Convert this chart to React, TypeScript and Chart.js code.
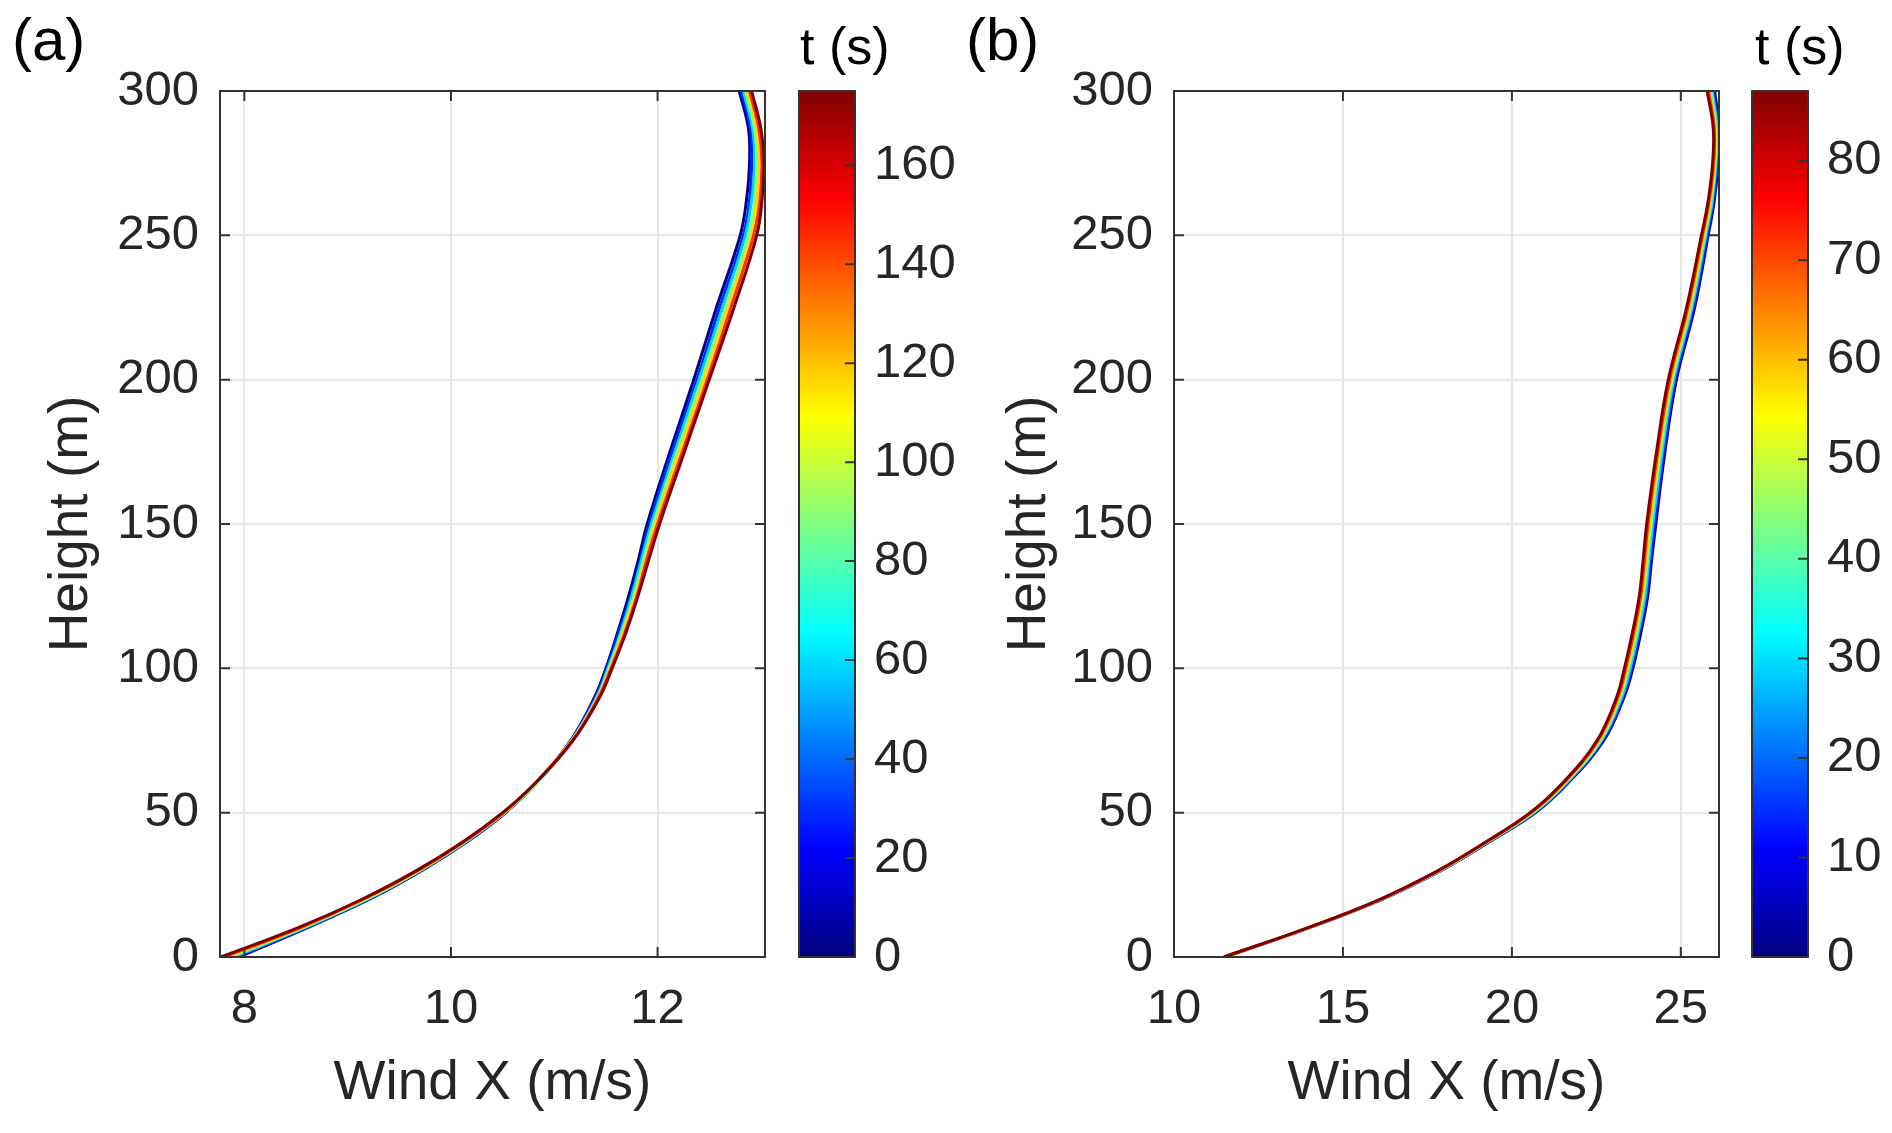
import { useEffect, useRef } from "react";
import { Chart, registerables } from "chart.js";

Chart.register(...registerables);

const FONT = "'Liberation Sans', Arial, Helvetica, sans-serif";
const TXT = "#262626";
const AXIS = "#333333";
const GRID = "#e6e6e6";

const heights = [0, 10, 20, 30, 40, 50, 60, 75, 90, 100, 112, 125, 137, 150, 175, 200, 225, 250, 262, 275, 287, 300];
const heightTicks = [0, 50, 100, 150, 200, 250, 300];

// (a) wind x (m/s), one profile per time step
const timesA = [0, 29, 58, 87, 116, 145, 175];
const windA_t0 = [7.95, 8.6, 9.21, 9.72, 10.16, 10.53, 10.82, 11.16, 11.39, 11.5, 11.61, 11.72, 11.81, 11.9, 12.12, 12.35, 12.57, 12.8, 12.86, 12.89, 12.88, 12.79];
const windA_t29 = [7.92, 8.59, 9.2, 9.71, 10.15, 10.52, 10.82, 11.16, 11.4, 11.51, 11.62, 11.74, 11.83, 11.92, 12.14, 12.38, 12.6, 12.83, 12.89, 12.91, 12.9, 12.81];
const windA_t58 = [7.89, 8.57, 9.19, 9.7, 10.15, 10.52, 10.82, 11.17, 11.41, 11.52, 11.64, 11.75, 11.84, 11.94, 12.17, 12.4, 12.63, 12.85, 12.91, 12.94, 12.92, 12.83];
const windA_t87 = [7.86, 8.56, 9.18, 9.7, 10.14, 10.52, 10.82, 11.17, 11.42, 11.53, 11.65, 11.77, 11.86, 11.96, 12.19, 12.43, 12.66, 12.88, 12.94, 12.96, 12.94, 12.85];
const windA_t116 = [7.83, 8.54, 9.16, 9.69, 10.13, 10.51, 10.81, 11.17, 11.42, 11.54, 11.66, 11.78, 11.88, 11.98, 12.21, 12.45, 12.68, 12.91, 12.96, 12.98, 12.96, 12.87];
const windA_t145 = [7.8, 8.53, 9.15, 9.68, 10.13, 10.51, 10.81, 11.18, 11.43, 11.55, 11.68, 11.8, 11.89, 12.0, 12.24, 12.48, 12.71, 12.93, 12.99, 13.01, 12.98, 12.89];
const windA_t175 = [7.77, 8.51, 9.14, 9.67, 10.12, 10.5, 10.81, 11.18, 11.44, 11.56, 11.69, 11.81, 11.91, 12.02, 12.26, 12.5, 12.74, 12.96, 13.01, 13.03, 13.0, 12.91];
const windA = [windA_t0, windA_t29, windA_t58, windA_t87, windA_t116, windA_t145, windA_t175];
const windTicksA = [8, 10, 12];
const colorTicksA = [0, 20, 40, 60, 80, 100, 120, 140, 160];

// (b)
const timesB = [0, 14, 29, 43, 58, 72, 87];
const windB_t0 = [11.5, 13.96, 16.16, 17.91, 19.35, 20.7, 21.64, 22.72, 23.32, 23.58, 23.81, 24.02, 24.13, 24.26, 24.53, 24.87, 25.41, 25.81, 25.99, 26.1, 26.13, 26.0];
const windB_t14 = [11.5, 13.96, 16.15, 17.9, 19.33, 20.67, 21.61, 22.69, 23.29, 23.54, 23.77, 23.98, 24.09, 24.22, 24.49, 24.83, 25.37, 25.78, 25.96, 26.07, 26.1, 25.96];
const windB_t29 = [11.49, 13.95, 16.14, 17.88, 19.31, 20.65, 21.59, 22.65, 23.25, 23.5, 23.73, 23.94, 24.05, 24.17, 24.45, 24.79, 25.33, 25.74, 25.93, 26.04, 26.07, 25.93];
const windB_t43 = [11.49, 13.95, 16.13, 17.87, 19.3, 20.62, 21.56, 22.62, 23.21, 23.45, 23.69, 23.89, 24.01, 24.12, 24.4, 24.75, 25.29, 25.71, 25.9, 26.02, 26.04, 25.89];
const windB_t58 = [11.49, 13.94, 16.12, 17.86, 19.28, 20.59, 21.53, 22.58, 23.17, 23.41, 23.64, 23.85, 23.96, 24.08, 24.36, 24.71, 25.25, 25.68, 25.87, 25.99, 26.01, 25.85];
const windB_t72 = [11.48, 13.94, 16.11, 17.84, 19.27, 20.57, 21.51, 22.55, 23.14, 23.37, 23.6, 23.81, 23.92, 24.03, 24.32, 24.67, 25.21, 25.64, 25.84, 25.97, 25.99, 25.82];
const windB_t87 = [11.48, 13.93, 16.1, 17.83, 19.25, 20.54, 21.48, 22.52, 23.1, 23.33, 23.56, 23.77, 23.88, 23.99, 24.28, 24.63, 25.17, 25.61, 25.81, 25.94, 25.96, 25.78];
const windB = [windB_t0, windB_t14, windB_t29, windB_t43, windB_t58, windB_t72, windB_t87];
const windTicksB = [10, 15, 20, 25];
const colorTicksB = [0, 10, 20, 30, 40, 50, 60, 70, 80];

function jet(v: number) {
  const c = (x: number) => Math.round(255 * Math.max(0, Math.min(1, x)));
  return `rgb(${c(1.5 - Math.abs(4 * v - 3))},${c(1.5 - Math.abs(4 * v - 2))},${c(1.5 - Math.abs(4 * v - 1))})`;
}

const tickFont = { family: FONT, size: 49, lineHeight: 1 };
const labelFont = { family: FONT, size: 55, lineHeight: 1 };

// matlab style box with inward ticks on all four sides
const framePlugin = {
  id: "frame",
  afterDatasetsDraw(chart: any) {
    const { ctx, chartArea: a, scales } = chart;
    const tl = 10;
    ctx.save();
    ctx.strokeStyle = AXIS;
    ctx.lineWidth = 2;
    ctx.beginPath();
    scales.x.ticks.forEach((t: any) => {
      const p = scales.x.getPixelForValue(t.value);
      ctx.moveTo(p, a.bottom); ctx.lineTo(p, a.bottom - tl);
      ctx.moveTo(p, a.top); ctx.lineTo(p, a.top + tl);
    });
    scales.y.ticks.forEach((t: any) => {
      const p = scales.y.getPixelForValue(t.value);
      ctx.moveTo(a.left, p); ctx.lineTo(a.left + tl, p);
      ctx.moveTo(a.right, p); ctx.lineTo(a.right - tl, p);
    });
    ctx.stroke();
    ctx.strokeRect(a.left, a.top, a.right - a.left, a.bottom - a.top);
    ctx.restore();
  },
};

const colorbarPlugin = {
  id: "colorbar",
  afterDraw(chart: any) {
    const { ctx, chartArea: a, scales } = chart;
    const g = ctx.createLinearGradient(0, a.bottom, 0, a.top);
    for (let i = 0; i <= 32; i++) g.addColorStop(i / 32, jet(i / 32));
    ctx.save();
    ctx.fillStyle = g;
    ctx.fillRect(a.left, a.top, a.right - a.left, a.bottom - a.top);
    ctx.strokeStyle = AXIS;
    ctx.lineWidth = 2;
    ctx.beginPath();
    scales.y.ticks.forEach((t: any) => {
      const p = scales.y.getPixelForValue(t.value);
      ctx.moveTo(a.right, p); ctx.lineTo(a.right - 10, p);
    });
    ctx.stroke();
    ctx.strokeRect(a.left, a.top, a.right - a.left, a.bottom - a.top);
    ctx.restore();
  },
};

function profileChart(canvas: HTMLCanvasElement, p: any) {
  const n = p.series.length;
  return new Chart(canvas, {
    type: "scatter",
    data: {
      datasets: p.series.map((xs: number[], i: number) => ({
        label: `t = ${p.times[i]} s`,
        data: xs.map((x, j) => ({ x, y: heights[j] })),
        showLine: true,
        borderColor: jet(p.times[i] / p.tMax),
        borderWidth: 3,
        pointRadius: 0,
        tension: 0.4,
        order: n - 1 - i, // latest time drawn on top
      })),
    },
    options: {
      animation: false,
      responsive: true,
      maintainAspectRatio: false,
      events: [],
      layout: { padding: { top: 91, right: p.padRight, left: 0, bottom: 0 } },
      plugins: { legend: { display: false }, tooltip: { enabled: false } },
      scales: {
        x: {
          type: "linear",
          position: "bottom",
          min: p.xMin,
          max: p.xMax,
          afterBuildTicks: (ax: any) => { ax.ticks = p.xTicks.map((v: number) => ({ value: v })); },
          afterFit: (ax: any) => { ax.height = 176; },
          grid: { color: GRID, lineWidth: 2, drawTicks: false },
          border: { display: false },
          ticks: { font: tickFont, color: TXT, padding: 28, maxRotation: 0, autoSkip: false },
          title: { display: true, text: "Wind X (m/s)", color: TXT, font: labelFont, padding: { top: 0, bottom: 22 } },
        },
        y: {
          type: "linear",
          position: "left",
          min: 0,
          max: 300,
          afterBuildTicks: (ax: any) => { ax.ticks = heightTicks.map((v) => ({ value: v })); },
          afterFit: (ax: any) => { ax.width = p.yAxisWidth; },
          grid: { color: GRID, lineWidth: 2, drawTicks: false },
          border: { display: false },
          ticks: { font: tickFont, color: TXT, padding: 21, autoSkip: false },
          title: { display: true, text: "Height (m)", color: TXT, font: labelFont, padding: { top: 44, bottom: 0 } },
        },
      },
    } as any,
    plugins: [framePlugin],
  });
}

function colorbarChart(canvas: HTMLCanvasElement, p: any) {
  return new Chart(canvas, {
    type: "scatter",
    data: { datasets: [] },
    options: {
      animation: false,
      responsive: true,
      maintainAspectRatio: false,
      events: [],
      layout: { padding: { top: 91, right: 0, left: p.padLeft, bottom: 176 } },
      plugins: { legend: { display: false }, tooltip: { enabled: false } },
      scales: {
        x: { display: false, min: 0, max: 1 },
        y: {
          type: "linear",
          position: "right",
          min: 0,
          max: p.tMax,
          afterBuildTicks: (ax: any) => { ax.ticks = p.ticks.map((v: number) => ({ value: v })); },
          afterFit: (ax: any) => { ax.width = p.axisWidth; },
          grid: { display: false, drawTicks: false },
          border: { display: false },
          ticks: { font: tickFont, color: TXT, padding: 19, autoSkip: false },
        },
      },
    } as any,
    plugins: [colorbarPlugin],
  });
}

function Slot({ left, width, children }: { left: number; width: number; children: any }) {
  return <div style={{ position: "absolute", left, top: 0, width, height: 1133 }}>{children}</div>;
}

const textStyle = (left: number, top: number, size: number) => ({
  position: "absolute" as const, left, top, fontSize: size, lineHeight: 1, color: "#000", whiteSpace: "nowrap" as const,
});

export default function App() {
  const aRef = useRef<HTMLCanvasElement | null>(null);
  const caRef = useRef<HTMLCanvasElement | null>(null);
  const bRef = useRef<HTMLCanvasElement | null>(null);
  const cbRef = useRef<HTMLCanvasElement | null>(null);

  useEffect(() => {
    if (!aRef.current || !caRef.current || !bRef.current || !cbRef.current) return;
    const charts = [
      profileChart(aRef.current, { series: windA, times: timesA, tMax: 175, xMin: 7.764, xMax: 13.04, xTicks: windTicksA, yAxisWidth: 220, padRight: 25 }),
      colorbarChart(caRef.current, { tMax: 175, ticks: colorTicksA, padLeft: 9, axisWidth: 103 }),
      profileChart(bRef.current, { series: windB, times: timesB, tMax: 87, xMin: 10, xMax: 26.13, xTicks: windTicksB, yAxisWidth: 216, padRight: 26 }),
      colorbarChart(cbRef.current, { tMax: 87, ticks: colorTicksB, padLeft: 7, axisWidth: 84 }),
    ];
    return () => charts.forEach((c) => c.destroy());
  }, []);

  return (
    <div style={{ position: "absolute", left: 0, top: 0, width: 1892, height: 1133, background: "#fff", overflow: "hidden", fontFamily: FONT }}>
      <Slot left={0} width={790}><canvas ref={aRef} /></Slot>
      <Slot left={790} width={168}><canvas ref={caRef} /></Slot>
      <Slot left={958} width={787}><canvas ref={bRef} /></Slot>
      <Slot left={1745} width={147}><canvas ref={cbRef} /></Slot>
      <div style={textStyle(12, 10, 60)}>(a)</div>
      <div style={textStyle(966, 10, 60)}>(b)</div>
      <div style={textStyle(800, 20, 52)}>t (s)</div>
      <div style={textStyle(1755, 20, 52)}>t (s)</div>
    </div>
  );
}
